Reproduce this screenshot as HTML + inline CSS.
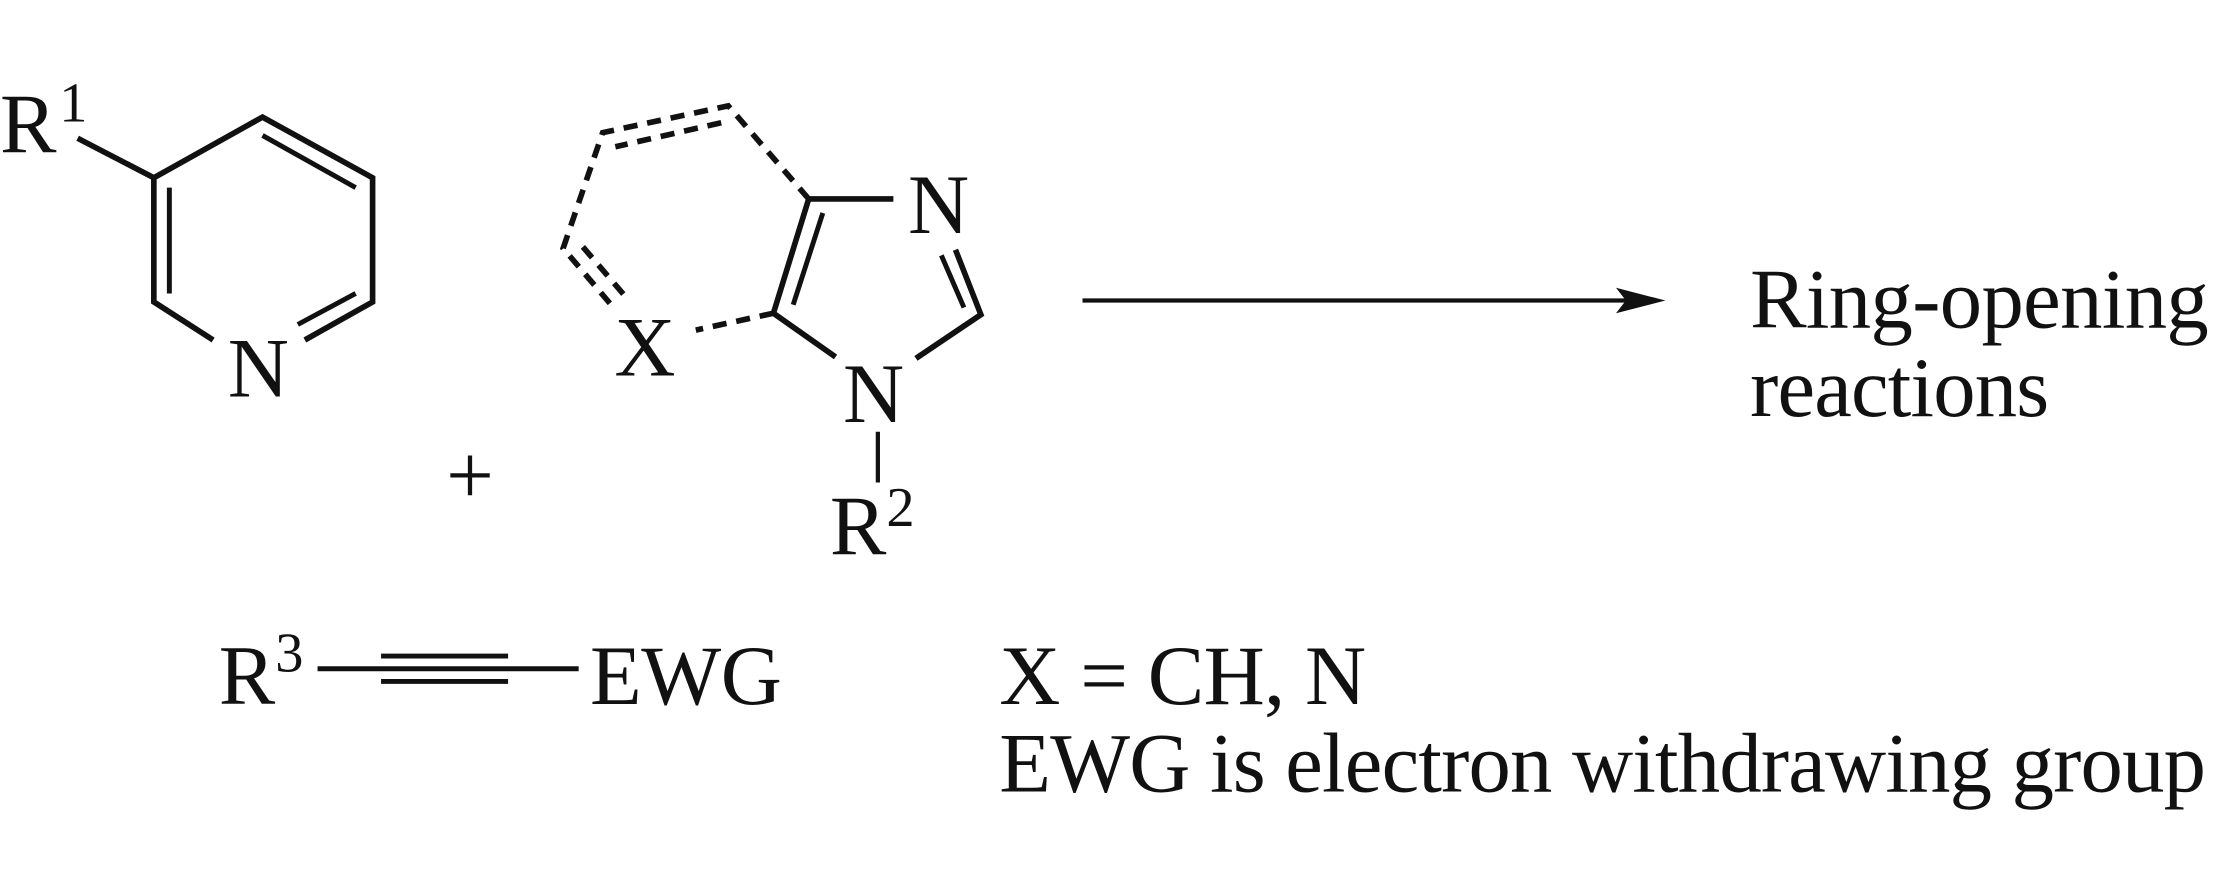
<!DOCTYPE html>
<html><head><meta charset="utf-8"><style>
html,body{margin:0;padding:0;background:#fff;}
svg{display:block;}
text{font-family:"Liberation Serif",serif;fill:#111;}
</style></head><body>
<svg width="2213" height="886" viewBox="0 0 1568 628" preserveAspectRatio="none" xmlns="http://www.w3.org/2000/svg">
<g stroke="#111" stroke-width="4" fill="none" stroke-linecap="butt">
<polyline points="151,241 109,214 109,126 186,83 264,126 264,214 216,241"/>
<line x1="120" y1="133" x2="120" y2="208" stroke-width="3.5"/>
<line x1="186" y1="96" x2="252" y2="133" stroke-width="3.5"/>
<line x1="211" y1="230" x2="252" y2="208" stroke-width="3.5"/>
<line x1="55" y1="98" x2="109" y2="126"/>
<line x1="573" y1="141" x2="633" y2="141"/>
<polyline points="677,177 695,223 649,254"/>
<line x1="667" y1="181" x2="683" y2="218" stroke-width="3.5"/>
<polyline points="592,253 548,222 573,141"/>
<line x1="562" y1="216" x2="583" y2="151" stroke-width="3.5"/>
<line x1="622" y1="306" x2="622" y2="342" stroke-width="3"/>
<g stroke-dasharray="10,7">
<polyline points="573,141 516,75 427,94 399,176 433,216"/>
<line x1="511" y1="87" x2="436" y2="104"/>
<line x1="413" y1="175" x2="443" y2="210"/>
<line x1="548" y1="222" x2="493" y2="234"/>
</g>
<line x1="767" y1="213" x2="1158" y2="213" stroke-width="3"/>
<line x1="225" y1="474" x2="410" y2="474" stroke-width="3.5"/>
<line x1="270" y1="465" x2="360" y2="465" stroke-width="3.5"/>
<line x1="270" y1="483" x2="360" y2="483" stroke-width="3.5"/>
</g>
<polygon points="1180,213 1145,204 1152,213 1145,222" fill="#111"/>
<g font-size="60">
<text x="0" y="108">R</text>
<text x="42" y="86" font-size="40">1</text>
<text x="183" y="281" text-anchor="middle">N</text>
<text x="665" y="165" text-anchor="middle">N</text>
<text x="619" y="299" text-anchor="middle">N</text>
<text x="457" y="266" text-anchor="middle">X</text>
<text x="588" y="393">R</text>
<text x="628" y="373" font-size="40">2</text>
<text x="333" y="357" text-anchor="middle">+</text>
<text x="1240" y="232" textLength="325">Ring-opening</text>
<text x="1240" y="295" textLength="212">reactions</text>
<text x="155" y="499">R</text>
<text x="195" y="476" font-size="40">3</text>
<text x="418" y="499" textLength="136">EWG</text>
<text x="708" y="499" textLength="260">X = CH, N</text>
<text x="708" y="561" textLength="855">EWG is electron withdrawing group</text>
</g>
</svg>
</body></html>
